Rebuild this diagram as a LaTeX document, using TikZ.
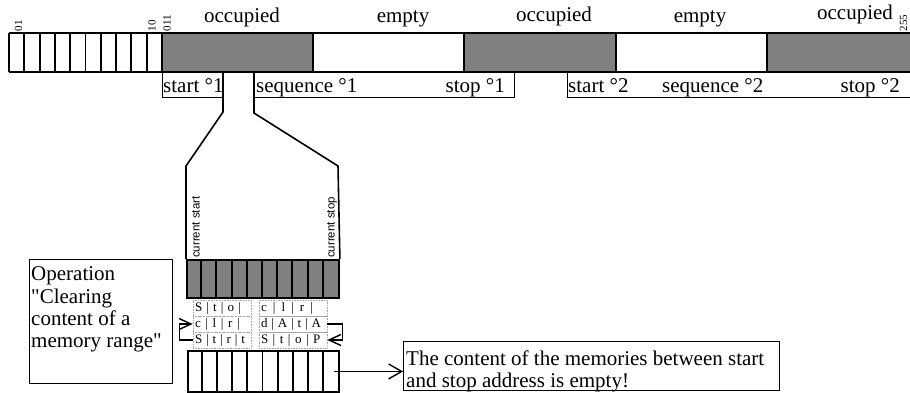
\documentclass[tikz,border=0pt]{standalone}
\usepackage{fontspec}
\setmainfont{Liberation Serif}[Ligatures=TeXOff]
\newfontfamily\lsans{Liberation Sans}
\usetikzlibrary{arrows.meta,calc}
\newcommand\gridtxt[5]{\hbox to #1pt{#2\hfil|\hfil #3\hfil|\hfil #4\hfil|\hfil #5\hfil}}
\begin{document}
\begin{tikzpicture}[x=1pt,y=-1pt,
  bigfont/.style={font=\fontsize{21}{22.3}\selectfont, inner sep=0pt},
  addr/.style={font=\fontsize{11}{11}\selectfont, rotate=90, anchor=west, inner sep=0pt},
  cur/.style={font=\lsans\fontsize{11.5}{11.5}\selectfont, rotate=90, anchor=west, inner sep=0pt},
  heavy/.style={line width=1.9pt},
  funnel/.style={line width=1.6pt},
  thinl/.style={line width=0.8pt},
  occ/.style={fill=black!50},
  gridrow/.style={draw=black!35, densely dotted, line width=0.6pt, inner sep=0pt, minimum height=16pt, font=\fontsize{13}{13}\selectfont},
  barb/.style={-{Straight Barb[length=13pt,width=15pt]}, line width=1.4pt},
  smallbarb/.style={-{Straight Barb[length=12pt,width=11pt]}, line width=1.4pt},
  boxnode/.style={draw, line width=1.4pt, inner sep=0pt, anchor=north west}
]
\useasboundingbox (0,0) rectangle (910,392);
% ---- top memory bar ----
\fill[occ] (162,33) rectangle (313,72);
\fill[occ] (464,33) rectangle (616,72);
\fill[occ] (767,33) rectangle (910,72);
\draw[heavy] (9,33) -- (910,33);
\draw[heavy] (9,72) -- (910,72);
\foreach \i in {0,...,10} \draw[heavy] ({9+15.3*\i},33) -- ({9+15.3*\i},72);
\foreach \x in {313,464,616,767} \draw[heavy] (\x,33) -- (\x,72);
% address labels
\node[addr] (a01) at (18.5,31.5) {01};
\node[addr] (a10) at (152,31.5) {10};
\node[addr] (a011) at (167,31.5) {011};
\node[addr] (a255) at (903.5,31.5) {255};
% segment labels
\node[bigfont, anchor=base] (o1) at (242,22) {occupied};
\node[bigfont, anchor=base] (e1) at (403,22) {empty};
\node[bigfont, anchor=base] (o2) at (554,21) {occupied};
\node[bigfont, anchor=base] (e2) at (700,22) {empty};
\node[bigfont, anchor=base] (o3) at (855,19) {occupied};
% ---- label rows ----
\draw[thinl] (162,72) -- (162,97) -- (223,97);
\draw[thinl] (254,97) -- (514,97) -- (514,72);
\draw[thinl] (567,72) -- (567,97) -- (910,97);
\node[bigfont, anchor=base west] (s1) at (163,92) {start °1};
\node[bigfont, anchor=base west] (q1) at (256,92) {sequence °1};
\node[bigfont, anchor=base east] (t1) at (505,92) {stop °1};
\node[bigfont, anchor=base west] (s2) at (568,92) {start °2};
\node[bigfont, anchor=base west] (q2) at (662,92) {sequence °2};
\node[bigfont, anchor=base east] (t2) at (900,92) {stop °2};
% ---- zoomed range ----
\node[draw, heavy, occ, minimum width=152, minimum height=38, inner sep=0pt, anchor=north west] (bg) at (186,259) {};
\foreach \i in {1,...,9} \draw[heavy] ({186+15.2*\i},259) -- ({186+15.2*\i},297);
\coordinate (fl) at (223,72);
\coordinate (fr) at (254,72);
\draw[funnel] (fl) -- (223,112) -- (186,166) -- (bg.north west);
\draw[funnel] (fr) -- (254,113) -- (338,166) -- (bg.north east);
\node[cur] (cs) at (196,258) {current start};
\node[cur] (ce) at (332,258) {current stop};
% ---- character grid ----
\node[gridrow, minimum width=58] (r1L) at (222,308) {\gridtxt{54}{S}{t}{o}{}};
\node[gridrow, minimum width=58] (r2L) at (222,324) {\gridtxt{54}{c}{l}{r}{}};
\node[gridrow, minimum width=58] (r3L) at (222,340) {\gridtxt{54}{S}{t}{r}{t}};
\node[gridrow, minimum width=68] (r1R) at (293,308) {\gridtxt{64}{c}{l}{r}{}};
\node[gridrow, minimum width=68] (r2R) at (293,324) {\gridtxt{64}{d}{A}{t}{A}};
\node[gridrow, minimum width=68] (r3R) at (293,340) {\gridtxt{64}{S}{t}{o}{P}};
\draw[smallbarb] (r3L.west) -- ++(-13,0) |- (r2L.west);
\draw[smallbarb] (r2R.east) -- ++(15,0) |- (r3R.east);
% ---- cleared memories ----
\node[draw, heavy, minimum width=151, minimum height=41, inner sep=0pt, anchor=north west] (bw) at (187,350) {};
\foreach \i in {1,...,9} \draw[heavy] ({187+15.1*\i},350) -- ({187+15.1*\i},391);
% ---- operation box ----
\node[boxnode, minimum width=143, minimum height=124] (op) at (29,259) {};
\node[bigfont, anchor=base west] (op1) at (31,280.7) {Operation};
\node[bigfont, anchor=base west] (op2) at (31,303) {"Clearing};
\node[bigfont, anchor=base west] (op3) at (31,325.3) {content of a};
\node[bigfont, anchor=base west] (op4) at (31,347.6) {memory range"};
% ---- message box ----
\node[boxnode, minimum width=376, minimum height=49] (msg) at (403,341) {};
\node[bigfont, anchor=base west] (m1) at (406,365) {The content of the memories between start};
\node[bigfont, anchor=base west] (m2) at (406,387) {and stop address is empty!};
\draw[barb] ([xshift=-6pt]bw.east) -- (bw.east -| msg.west);
\end{tikzpicture}
\end{document}
